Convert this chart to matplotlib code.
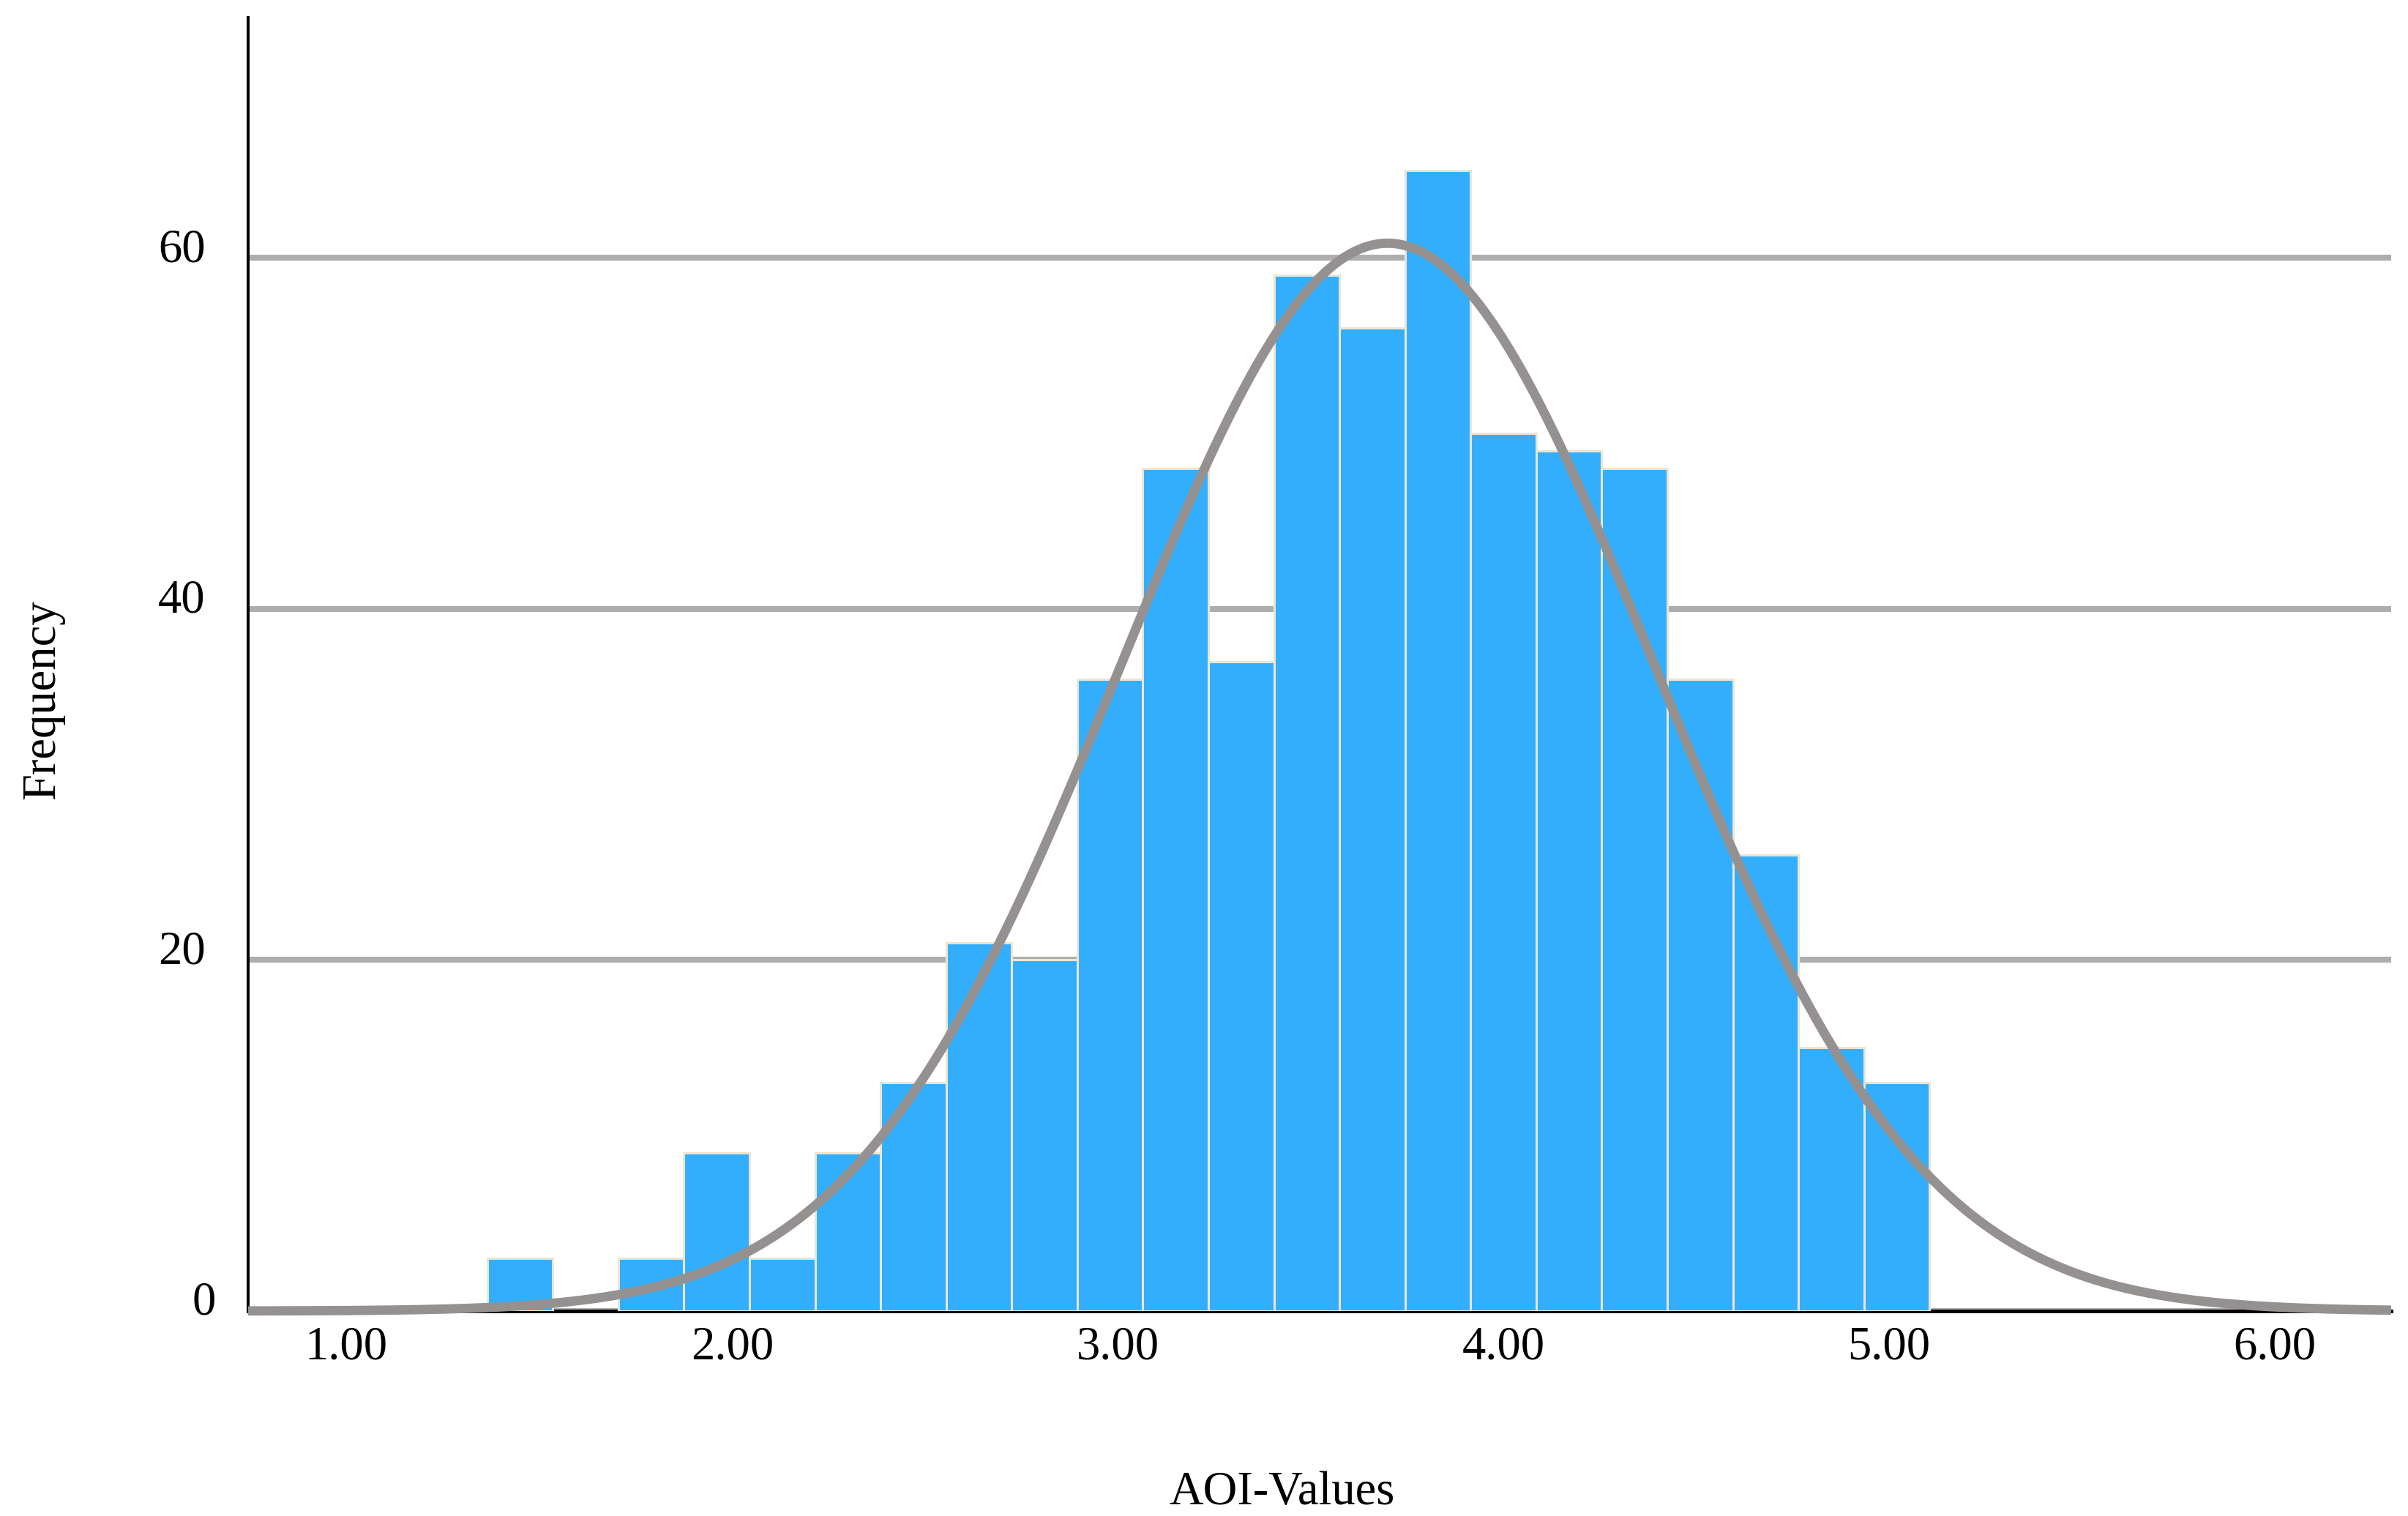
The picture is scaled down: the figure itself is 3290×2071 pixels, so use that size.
import matplotlib
matplotlib.use('Agg')
import matplotlib.pyplot as plt
import matplotlib.transforms as mtransforms
import numpy as np

# 数据
bin_edges = [1.365, 1.535, 1.705, 1.875, 2.045, 2.215, 2.385, 2.555, 2.725,
             2.895, 3.065, 3.235, 3.405, 3.575, 3.745, 3.915, 4.085, 4.255,
             4.425, 4.595, 4.765, 4.935, 5.105]
counts = [3, 0, 3, 9, 3, 9, 13, 21, 20, 36, 48, 37, 59, 56, 65, 50, 49, 48,
          36, 26, 15, 13]
curve_mean = 3.70
curve_sd = 0.69
x_ticks = [1, 2, 3, 4, 5, 6]
x_labels = ['1.00', '2.00', '3.00', '4.00', '5.00', '6.00']
y_ticks = [0, 20, 40, 60]
y_labels = ['0', '20', '40', '60']

plt.rcParams['font.family'] = ['Liberation Serif', 'DejaVu Serif']
fs = 46.5

fig = plt.figure(figsize=(32.9, 20.71), dpi=100)
ax = fig.add_axes([339 / 3290, 1 - 1791 / 2071, (3267 - 339) / 3290, (1791 - 24) / 2071])

# 直方图
left = np.array(bin_edges[:-1])
width = np.diff(bin_edges)
h = np.array(counts)
keep = h > 0
ax.bar(left[keep], h[keep], width=width[keep], align='edge',
       color='#32aefc', edgecolor='#ebe5d3', linewidth=2.2, zorder=3)

# 正态曲线
xlim = (0.745, 6.302)
xs = np.linspace(xlim[0], xlim[1], 600)
n = sum(counts)
bw = bin_edges[1] - bin_edges[0]
ys = n * bw / (curve_sd * np.sqrt(2 * np.pi)) * np.exp(-0.5 * ((xs - curve_mean) / curve_sd) ** 2)
ax.plot(xs, ys, color='#959191', linewidth=9.2, solid_capstyle='butt',
        zorder=4, clip_on=False)

ax.set_xlim(xlim)
ax.set_ylim(0, 73.7)

# 坐标轴
for s in ['top', 'right']:
    ax.spines[s].set_visible(False)
ax.spines['left'].set_linewidth(2.9)
ax.spines['bottom'].set_linewidth(3.6)
ax.spines['left'].set_color('black')
ax.spines['bottom'].set_color('black')

ax.set_xticks(x_ticks)
ax.set_xticklabels(x_labels, fontsize=fs)
ax.set_yticks(y_ticks)
ax.set_yticklabels(y_labels, fontsize=fs)
ax.tick_params(axis='x', length=0, pad=14.5)
ax.tick_params(axis='y', length=0, pad=42)
down = mtransforms.ScaledTranslation(0, -0.05, fig.dpi_scale_trans)
for t in ax.get_yticklabels():
    t.set_verticalalignment('baseline')
    t.set_transform(t.get_transform() + down)
# "0" sits a bit further right in the original
t0 = ax.get_yticklabels()[0]
t0.set_transform(t0.get_transform() + mtransforms.ScaledTranslation(0.14, 0, fig.dpi_scale_trans))

# 网格
ax.set_axisbelow(True)
ax.yaxis.grid(True, color='#aeaeae', linewidth=5.8)
ax.xaxis.grid(False)

# 标签
fig.text(1752 / 3290, 1 - 2055 / 2071, 'AOI-Values', fontsize=fs,
         ha='center', va='baseline')
fig.text(58 / 3290, 1 - 956 / 2071, 'Frequency', fontsize=fs,
         rotation=90, ha='center', va='center')

plt.savefig('out.png', dpi=100)
